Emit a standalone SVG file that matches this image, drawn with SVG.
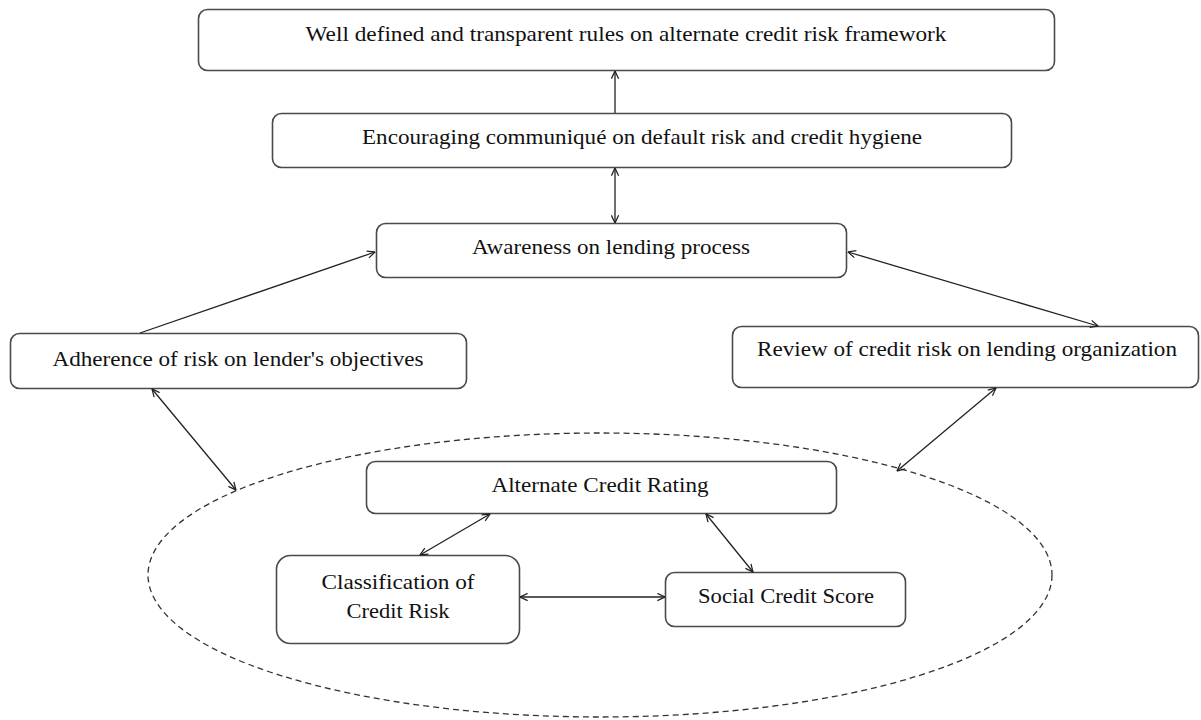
<svg xmlns="http://www.w3.org/2000/svg" width="1201" height="720" viewBox="0 0 1201 720">
<style>
.box{fill:#fff;stroke:#4a4a4a;stroke-width:1.6}
.t{font-family:"Liberation Serif","Times New Roman",serif;font-size:22px;fill:#111;text-anchor:middle}
.c{stroke:#222;stroke-width:1.3;fill:none}
.dash{fill:none;stroke:#333;stroke-width:1.3;stroke-dasharray:6 4}
</style>
<defs>
<marker id="arr" viewBox="0 0 10 10" refX="9.5" refY="5" markerWidth="9" markerHeight="9" markerUnits="userSpaceOnUse" orient="auto-start-reverse">
<path d="M1,1 L9.5,5 L1,9" fill="none" stroke="#222" stroke-width="1.4"/>
</marker>
</defs>
<rect width="1201" height="720" fill="#fff"/>
<ellipse id="group-ellipse" class="dash" cx="600" cy="575" rx="452" ry="142"/>
<g id="n1"><rect class="box" x="198.5" y="9.5" width="856" height="61" rx="9"/><text class="t" x="626" y="41" textLength="641" lengthAdjust="spacingAndGlyphs">Well  defined and transparent rules on alternate credit risk framework</text></g>
<g id="n2"><rect class="box" x="272.5" y="113.5" width="739" height="54" rx="9"/><text class="t" x="642" y="144" textLength="560" lengthAdjust="spacingAndGlyphs">Encouraging communiqué on default risk and credit hygiene</text></g>
<g id="n3"><rect class="box" x="376.5" y="223.5" width="470" height="54" rx="9"/><text class="t" x="611" y="254" textLength="278" lengthAdjust="spacingAndGlyphs">Awareness on lending process</text></g>
<g id="n4"><rect class="box" x="10.5" y="333.5" width="456" height="55" rx="9"/><text class="t" x="238" y="366" textLength="371" lengthAdjust="spacingAndGlyphs">Adherence of risk on lender's objectives</text></g>
<g id="n5"><rect class="box" x="732.5" y="326.5" width="466" height="61" rx="9"/><text class="t" x="967" y="356" textLength="420" lengthAdjust="spacingAndGlyphs">Review of credit risk  on lending organization</text></g>
<g id="n6"><rect class="box" x="366.5" y="461.5" width="470" height="52" rx="9"/><text class="t" x="600" y="492" textLength="217" lengthAdjust="spacingAndGlyphs">Alternate Credit Rating</text></g>
<g id="n7"><rect class="box" x="276.5" y="555.5" width="243" height="88" rx="14"/><text class="t" x="398" y="589" textLength="153" lengthAdjust="spacingAndGlyphs">Classification of</text><text class="t" x="398" y="618" textLength="103" lengthAdjust="spacingAndGlyphs">Credit Risk</text></g>
<g id="n8"><rect class="box" x="665.5" y="572.5" width="240" height="54" rx="9"/><text class="t" x="786" y="603" textLength="176" lengthAdjust="spacingAndGlyphs">Social Credit Score</text></g>
<g id="connectors">
<line class="c" x1="615" y1="113" x2="615" y2="71" marker-end="url(#arr)"/>
<line class="c" x1="615" y1="168" x2="615" y2="223" marker-start="url(#arr)" marker-end="url(#arr)"/>
<line class="c" x1="140" y1="333" x2="375" y2="252" marker-end="url(#arr)"/>
<line class="c" x1="848" y1="252" x2="1098" y2="326" marker-start="url(#arr)" marker-end="url(#arr)"/>
<line class="c" x1="152" y1="389" x2="236" y2="490" marker-start="url(#arr)" marker-end="url(#arr)"/>
<line class="c" x1="996" y1="388" x2="897" y2="471" marker-start="url(#arr)" marker-end="url(#arr)"/>
<line class="c" x1="420" y1="555" x2="490" y2="514" marker-start="url(#arr)" marker-end="url(#arr)"/>
<line class="c" x1="706" y1="514" x2="753" y2="572" marker-start="url(#arr)" marker-end="url(#arr)"/>
<line class="c" x1="520" y1="597" x2="665" y2="597" marker-start="url(#arr)" marker-end="url(#arr)"/>
</g>
</svg>
